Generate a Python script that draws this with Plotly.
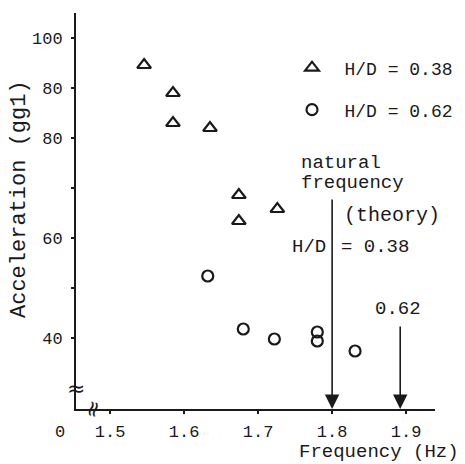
import plotly.graph_objects as go

# ---- data ----
tri_freq = [1.546, 1.585, 1.585, 1.635, 1.674, 1.674, 1.726]
tri_acc = [94.6, 89.0, 83.0, 82.0, 68.6, 63.4, 65.8]
circ_freq = [1.632, 1.680, 1.722, 1.780, 1.780, 1.831]
circ_acc = [52.4, 41.8, 39.8, 41.2, 39.4, 37.4]

x_tickvals = [1.5, 1.6, 1.7, 1.8, 1.9]
x_ticktext = ["1.5", "1.6", "1.7", "1.8", "1.9"]
y_tickvals = [40, 50, 60, 70, 80, 90, 100]
y_ticktext = ["40", "", "60", "", "80", "80", "100"]

nat_freq_038 = 1.800
nat_freq_062 = 1.892
arrow_top_038 = 68.0
arrow_top_062 = 42.6

X_RANGE = [1.454, 1.939]
Y_RANGE = [25.8, 105.0]

FONT = "Liberation Mono, Courier New, monospace"
INK = "#1a1a1a"

fig = go.Figure()
fig.add_trace(go.Scatter(
    x=tri_freq, y=tri_acc, mode="markers", name="H/D = 0.38",
    marker=dict(symbol="triangle-up-open", size=12, color=INK, line=dict(width=2.2, color=INK)),
    legend="legend",
))
fig.add_trace(go.Scatter(
    x=circ_freq, y=circ_acc, mode="markers", name="H/D = 0.62",
    marker=dict(symbol="circle-open", size=11, color=INK, line=dict(width=2.2, color=INK)),
    legend="legend2",
))

annos = []
# arrows marking theoretical natural frequencies
for xf, ytop in [(nat_freq_038, arrow_top_038), (nat_freq_062, arrow_top_062)]:
    annos.append(dict(x=xf, y=Y_RANGE[0], ax=xf, ay=ytop, xref="x", yref="y",
                      axref="x", ayref="y", text="", showarrow=True,
                      arrowhead=2, arrowsize=1.8, arrowwidth=1.6, arrowcolor=INK))

def txt(x, y, s, xanchor="left", size=19, **kw):
    d = dict(x=x, y=y, xref="x", yref="y", text=s, showarrow=False,
             xanchor=xanchor, yanchor="middle",
             font=dict(family=FONT, size=size, color=INK))
    d.update(kw)
    annos.append(d)

txt(1.755, 75.0, "natural")
txt(1.755, 71.0, "frequency")
txt(1.8135, 64.6, "(theory)", size=20)
txt(1.7945, 58.2, "H/D", xanchor="right")
txt(1.8095, 58.2, "= 0.38")
txt(1.889, 45.8, "0.62", xanchor="center")

# axis titles
annos.append(dict(x=1 + 25 / 359, y=-43 / 396, xref="paper", yref="paper",
                  text="Frequency (Hz)", showarrow=False, xanchor="right", yanchor="middle",
                  borderpad=0,
                  font=dict(family=FONT, size=19, color=INK)))
annos.append(dict(x=-57 / 359, y=210 / 396, xref="paper", yref="paper",
                  text="Acceleration (gg1)", showarrow=False, textangle=-90,
                  xanchor="center", yanchor="middle",
                  font=dict(family=FONT, size=22, color=INK)))
# origin label
annos.append(dict(x=-16 / 359, y=-23 / 396, xref="paper", yref="paper", text="0",
                  showarrow=False, xanchor="center", yanchor="middle",
                  font=dict(family=FONT, size=17, color=INK)))
# axis break marks
annos.append(dict(x=0, y=21 / 396, xref="paper", yref="paper", text="≈",
                  showarrow=False, xanchor="center", yanchor="middle",
                  font=dict(family="DejaVu Sans", size=22, color=INK)))
annos.append(dict(x=16 / 359, y=0, xref="paper", yref="paper", text="≈",
                  showarrow=False, xanchor="center", yanchor="middle", textangle=-75,
                  font=dict(family="DejaVu Sans", size=22, color=INK)))

axis_common = dict(showgrid=False, zeroline=False, showline=True, linecolor=INK,
                   linewidth=2, ticks="outside", ticklen=3, tickwidth=2, tickcolor=INK,
                   tickfont=dict(family=FONT, size=17, color=INK), mirror=False,
                   automargin=False)

fig.update_layout(
    width=465, height=464,
    margin=dict(l=76, r=30, t=13, b=55, autoexpand=False),
    paper_bgcolor="white", plot_bgcolor="white",
    xaxis=dict(range=X_RANGE, tickvals=x_tickvals, ticktext=x_ticktext,
               ticklabelstandoff=3, **axis_common),
    yaxis=dict(range=Y_RANGE, tickvals=y_tickvals, ticktext=y_ticktext,
               ticklabelstandoff=5, **axis_common),
    legend=dict(x=(312 - 108.5) / 359, y=(409 - 68) / 396, xanchor="left", yanchor="middle",
                itemwidth=55,
                bgcolor="rgba(0,0,0,0)", font=dict(family=FONT, size=18, color=INK)),
    legend2=dict(x=(312 - 108.5) / 359, y=(409 - 110) / 396, xanchor="left", yanchor="middle",
                 itemwidth=55,
                 bgcolor="rgba(0,0,0,0)", font=dict(family=FONT, size=18, color=INK)),
    annotations=annos,
    showlegend=True,
)

fig.write_html("out.html", config={"displayModeBar": False},
               post_script="document.body.style.margin='0';")
